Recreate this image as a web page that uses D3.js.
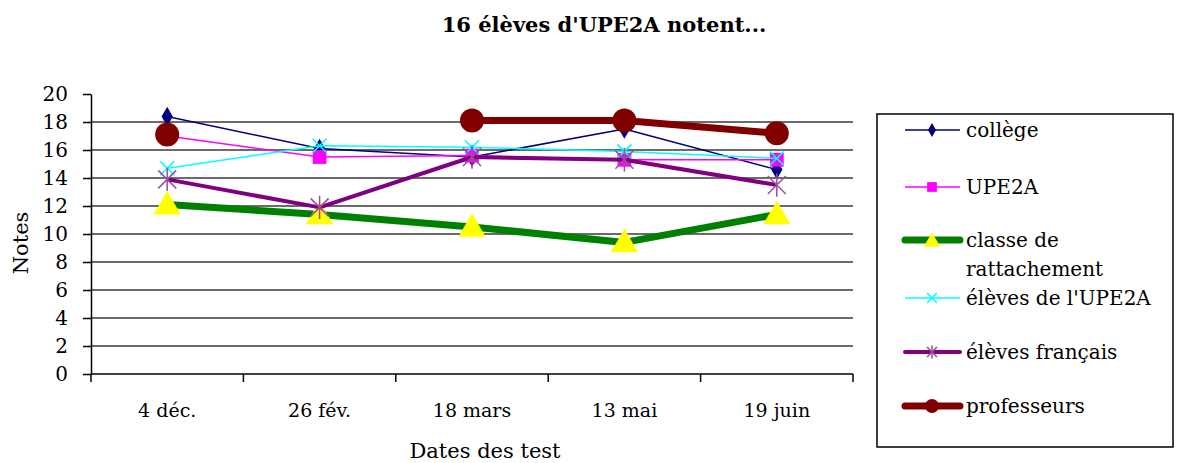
<!DOCTYPE html>
<meta charset="utf-8">
<style>
body { margin: 0; background: #fff; }
svg { font-family: "DejaVu Serif", serif; }
.grid line { stroke: #3a3a3a; stroke-width: 1.5; }
.axis path, .axis line { stroke: #000; stroke-width: 1.5; }
.axis text { font-size: 19px; fill: #000; font-family: "DejaVu Serif", serif; }
</style>
<svg width="1179" height="463"></svg>
<script src="https://d3js.org/d3.v7.min.js"></script>
<script>

var dates = ["4 déc.", "26 fév.", "18 mars", "13 mai", "19 juin"];
var yTicks = [0, 2, 4, 6, 8, 10, 12, 14, 16, 18, 20];

var college = [18.4, 16.1, 15.5, 17.5, 14.6];
var upe2a = [17.0, 15.5, 15.6, 15.3, 15.3];
var rattachement = [12.1, 11.4, 10.5, 9.4, 11.4];
var elevesUpe2a = [14.7, 16.3, 16.2, 15.9, 15.4];
var elevesFrancais = [13.9, 11.9, 15.5, 15.3, 13.5];
var professeurs = [17.1, null, 18.1, 18.1, 17.2];

var series = [
  {name: ["collège"], values: college, color: "#000080", width: 1.5, marker: "diamond", mcolor: "#000080", msize: 110},
  {name: ["UPE2A"], values: upe2a, color: "#ff00ff", width: 1.5, marker: "square", mcolor: "#ff00ff", msize: 190},
  {name: ["classe de", "rattachement"], values: rattachement, color: "#008000", width: 7, marker: "triangle", mcolor: "#ffff00", msize: 320},
  {name: ["élèves de l'UPE2A"], values: elevesUpe2a, color: "#00ffff", width: 1.5, marker: "x", mcolor: "#00ffff", msize: 7},
  {name: ["élèves français"], values: elevesFrancais, color: "#800080", width: 4, marker: "star", mcolor: "#9b4f9b", msize: 9},
  {name: ["professeurs"], values: professeurs, color: "#800000", width: 7, marker: "circle", mcolor: "#800000", msize: 12}
];

var svg = d3.select("svg"),
    plotLeft = 91, plotRight = 853, plotTop = 94, plotBottom = 374;

var x = d3.scaleBand().domain(dates).range([plotLeft, plotRight]);
var y = d3.scaleLinear().domain([0, 20]).range([plotBottom, plotTop]);

// title
svg.append("text")
    .attr("x", 604).attr("y", 32)
    .attr("text-anchor", "middle")
    .style("font-size", "21px").style("font-weight", "bold")
    .text("16 élèves d'UPE2A notent...");

// grid
svg.append("g").attr("class", "grid")
  .selectAll("line")
  .data(yTicks.filter(function(d) { return d > 0 && d < 20; }))
  .enter().append("line")
    .attr("x1", plotLeft).attr("x2", plotRight)
    .attr("y1", function(d) { return y(d); })
    .attr("y2", function(d) { return y(d); });

// axes
var yAxis = svg.append("g").attr("class", "axis")
    .attr("transform", "translate(" + plotLeft + ",0)")
    .call(d3.axisLeft(y).tickValues(yTicks).tickSize(8).tickPadding(15).tickSizeOuter(0))
    .attr("font-family", null);
yAxis.selectAll("text").style("font-size", "20px");

var xAxis = svg.append("g").attr("class", "axis")
    .attr("transform", "translate(0," + plotBottom + ")")
    .call(d3.axisBottom(x).tickSize(0).tickPadding(30))
    .attr("font-family", null);
xAxis.select(".domain").attr("d", "M" + plotLeft + ",0H" + plotRight);
xAxis.selectAll(".bnd")
  .data(d3.range(dates.length + 1))
  .enter().append("line")
    .attr("stroke", "#000").attr("stroke-width", 1.5)
    .attr("x1", function(i) { return plotLeft + i * x.step(); })
    .attr("x2", function(i) { return plotLeft + i * x.step(); })
    .attr("y1", 0).attr("y2", 8);

svg.append("text")
    .attr("transform", "translate(28,243) rotate(-90)")
    .attr("text-anchor", "middle")
    .style("font-size", "21px")
    .text("Notes");

svg.append("text")
    .attr("x", 485).attr("y", 458)
    .attr("text-anchor", "middle")
    .style("font-size", "21px")
    .text("Dates des test");

function cx(i) { return x(dates[i]) + x.bandwidth() / 2; }

var line = d3.line()
    .defined(function(d) { return d != null; })
    .x(function(d, i) { return cx(i); })
    .y(function(d) { return y(d); });

function drawMarker(g, s, px, py) {
  if (s.marker === "diamond") {
    g.append("path").attr("d", d3.symbol(d3.symbolDiamond, s.msize)())
      .attr("transform", "translate(" + px + "," + py + ")").attr("fill", s.mcolor);
  } else if (s.marker === "square") {
    g.append("path").attr("d", d3.symbol(d3.symbolSquare, s.msize)())
      .attr("transform", "translate(" + px + "," + py + ")").attr("fill", s.mcolor);
  } else if (s.marker === "triangle") {
    g.append("path").attr("d", d3.symbol(d3.symbolTriangle, s.msize)())
      .attr("transform", "translate(" + px + "," + (py + 2) + ")").attr("fill", s.mcolor);
  } else if (s.marker === "circle") {
    g.append("circle").attr("cx", px).attr("cy", py).attr("r", s.msize).attr("fill", s.mcolor);
  } else if (s.marker === "x") {
    var r = s.msize;
    g.append("path")
      .attr("d", "M" + (px - r) + "," + (py - r) + "L" + (px + r) + "," + (py + r) +
                 "M" + (px - r) + "," + (py + r) + "L" + (px + r) + "," + (py - r))
      .attr("stroke", s.mcolor).attr("stroke-width", 1.5);
  } else if (s.marker === "star") {
    var r = s.msize;
    g.append("path")
      .attr("d", "M" + (px - r) + "," + (py - r) + "L" + (px + r) + "," + (py + r) +
                 "M" + (px - r) + "," + (py + r) + "L" + (px + r) + "," + (py - r) +
                 "M" + px + "," + (py - r * 1.3) + "L" + px + "," + (py + r * 1.3))
      .attr("stroke", s.mcolor).attr("stroke-width", 1.5);
  }
}

series.forEach(function(s) {
  var g = svg.append("g");
  g.append("path")
    .datum(s.values)
    .attr("d", line)
    .attr("fill", "none")
    .attr("stroke", s.color)
    .attr("stroke-width", s.width)
    .attr("stroke-linejoin", "round");
  s.values.forEach(function(v, i) {
    if (v != null) drawMarker(g, s, cx(i), y(v));
  });
});

// legend
var legend = svg.append("g");
legend.append("rect")
    .attr("x", 877).attr("y", 114).attr("width", 296).attr("height", 333)
    .attr("fill", "none").attr("stroke", "#000").attr("stroke-width", 1.5);

var legendY = [130, 187, 240, 298, 352, 406];
series.forEach(function(s, i) {
  var ly = legendY[i], g = legend.append("g");
  g.append("line").attr("x1", 905).attr("x2", 960).attr("y1", ly).attr("y2", ly)
    .attr("stroke", s.color).attr("stroke-width", s.width).attr("stroke-linecap", s.width > 2 ? "round" : "butt");
  var ms = Object.assign({}, s);
  if (s.marker === "circle") ms.msize = 7;
  else if (s.marker === "triangle") ms.msize = 120;
  else if (s.marker === "x" || s.marker === "star") ms.msize = 5;
  else ms.msize = s.msize * 0.5;
  drawMarker(g, ms, 932, ly);
  var t = g.append("text").attr("x", 966).attr("y", ly + 7).style("font-size", "20px");
  s.name.forEach(function(n, j) {
    t.append("tspan").attr("x", 966).attr("dy", j ? 29 : 0).text(n);
  });
});
</script>
